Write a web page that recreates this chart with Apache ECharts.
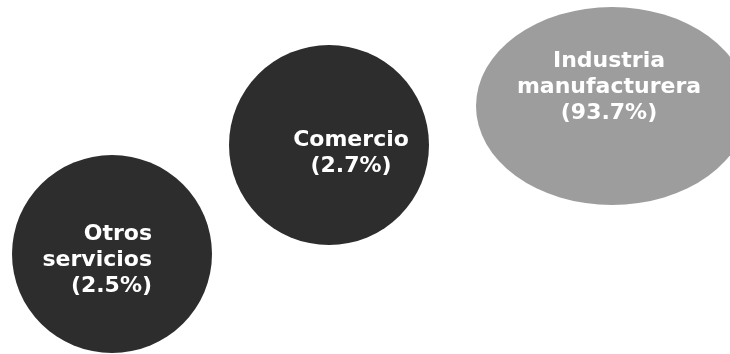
<!DOCTYPE html>
<html>
<head>
<meta charset="utf-8">
<script src="https://cdn.jsdelivr.net/npm/echarts@6/dist/echarts.min.js"></script>
<style>
html,body{margin:0;padding:0;background:#fff;}
#main{width:730px;height:354px;}
</style>
</head>
<body>
<div id="main"></div>
<script>
// Data
var categories = ['Otros servicios', 'Comercio', 'Industria manufacturera'];
var labelLines = [['Otros', 'servicios'], ['Comercio'], ['Industria', 'manufacturera']];
var shares = [2.5, 2.7, 93.7];

// Layout (positions in the hidden axes' units, sizes in px)
var layoutPos = [[112, 254], [329, 145], [612, 106]];
var layoutSize = [[200, 198], [200, 200], [272, 198]];
var colors = ['#2d2d2d', '#2d2d2d', '#9d9d9d'];
var labelAlign = ['right', 'center', 'center'];
var labelOffset = [[40, 6], [22, 8], [-3, -19]];

var chart = echarts.init(document.getElementById('main'));
var seriesData = categories.map(function (name, i) {
  return {
    name: name,
    value: [layoutPos[i][0], layoutPos[i][1], shares[i]],
    symbolSize: layoutSize[i],
    itemStyle: { color: colors[i], opacity: 1 },
    label: {
      show: true,
      position: 'inside',
      align: labelAlign[i],
      offset: labelOffset[i],
      formatter: labelLines[i].join('\n') + '\n(' + shares[i].toFixed(1) + '%)'
    }
  };
});

chart.setOption({
  animation: false,
  grid: { left: 0, right: 0, top: 0, bottom: 0 },
  xAxis: { type: 'value', min: 0, max: 730, show: false },
  yAxis: { type: 'value', min: 0, max: 354, inverse: true, show: false },
  series: [{
    type: 'scatter',
    symbol: 'circle',
    data: seriesData,
    itemStyle: { opacity: 1 },
    label: {
      color: '#ffffff',
      opacity: 1,
      fontFamily: 'DejaVu Sans',
      fontWeight: 'bold',
      fontSize: 22,
      lineHeight: 26
    }
  }]
});
</script>
</body>
</html>
